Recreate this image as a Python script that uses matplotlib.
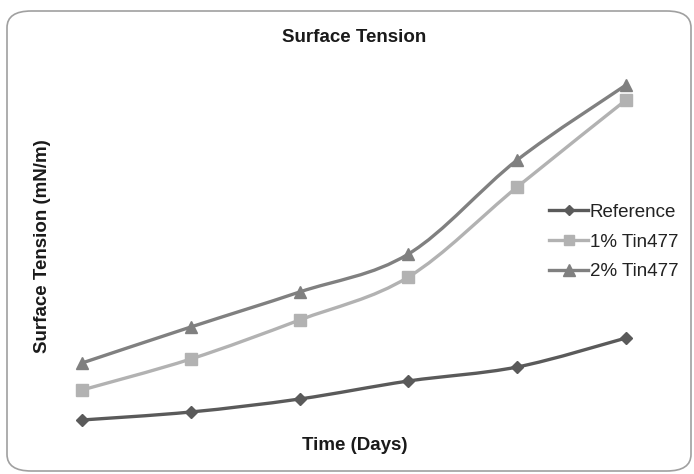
import matplotlib
matplotlib.use("Agg")
import matplotlib.pyplot as plt
import numpy as np
from matplotlib.path import Path
from matplotlib.patches import PathPatch, FancyBboxPatch
from matplotlib.lines import Line2D

plt.rcParams['font.family'] = ['Liberation Sans', 'DejaVu Sans']

days = [1, 2, 3, 4, 5, 6]
series_names = ["Reference", "1% Tin477", "2% Tin477"]
reference = [54, 62, 75, 93, 107, 136]
tin1 = [84, 115, 154, 197, 287, 374]
tin2 = [111, 147, 182, 220, 314, 389]

colors = ["#5a5a5a", "#b2b2b2", "#808080"]
markers = ["D", "s", "^"]
msizes = [6, 8, 9]

W, H = 694, 474
fig = plt.figure(figsize=(W / 100, H / 100), dpi=100)

# rounded frame
frame = FancyBboxPatch((7 / W, 3 / H), 684 / W, 460 / H,
                       boxstyle="round,pad=0,rounding_size=0.035",
                       transform=fig.transFigure, facecolor="none",
                       edgecolor="#a0a0a0", linewidth=1.2, zorder=-1)
fig.patches.append(frame)

# axes placement in pixels
left_px, right_px, top_px, bot_px = 60, 650, 60, 430
ax = fig.add_axes([left_px / W, 1 - bot_px / H, (right_px - left_px) / W, (bot_px - top_px) / H])
ax.set_facecolor("none")
step = (626 - 82) / 5.0
ax.set_xlim(1 - (82 - left_px) / step, 6 + (right_px - 626) / step)
ax.set_ylim(474 - bot_px, 474 - top_px)
for s in ax.spines.values():
    s.set_visible(False)
ax.set_xticks([])
ax.set_yticks([])


def smooth_path(xs, ys, t=1 / 6.0):
    xs = np.asarray(xs, float)
    ys = np.asarray(ys, float)
    n = len(xs)
    verts = [(xs[0], ys[0])]
    codes = [Path.MOVETO]
    for i in range(n - 1):
        p0 = np.array([xs[max(i - 1, 0)], ys[max(i - 1, 0)]])
        p1 = np.array([xs[i], ys[i]])
        p2 = np.array([xs[i + 1], ys[i + 1]])
        p3 = np.array([xs[min(i + 2, n - 1)], ys[min(i + 2, n - 1)]])
        c1 = p1 + (p2 - p0) * t
        c2 = p2 - (p3 - p1) * t
        verts += [tuple(c1), tuple(c2), tuple(p2)]
        codes += [Path.CURVE4] * 3
    return Path(verts, codes)


handles = []
for name, vals, c, m, ms in zip(series_names, [reference, tin1, tin2], colors, markers, msizes):
    patch = PathPatch(smooth_path(days, vals), facecolor="none", edgecolor=c,
                      linewidth=2.4, capstyle="round", joinstyle="round", zorder=2)
    ax.add_patch(patch)
    ax.plot(days, vals, linestyle="none", marker=m, markersize=ms, color=c,
            markeredgecolor=c, zorder=3)
    handles.append(Line2D([], [], color=c, linewidth=2.4, marker=m, markersize=ms - 1,
                          markeredgecolor=c, label=name))

fig.legend(handles=handles, loc="center left", bbox_to_anchor=(532 / W, 1 - 242 / H),
           frameon=False, fontsize=13.5, handlelength=2.1, handletextpad=0.08,
           labelspacing=0.68, labelcolor="#222222")

fig.text(354 / W, 1 - 37 / H, "Surface Tension", ha="center", va="center",
         fontsize=13.5, fontweight="bold", color="#1a1a1a")
fig.text(355 / W, 1 - 446 / H, "Time (Days)", ha="center", va="center",
         fontsize=13.5, fontweight="bold", color="#1a1a1a")
fig.text(43 / W, 1 - 246 / H, "Surface Tension (mN/m)", ha="center", va="center",
         rotation=90, fontsize=13.5, fontweight="bold", color="#1a1a1a")

fig.savefig("out.png", dpi=100)
